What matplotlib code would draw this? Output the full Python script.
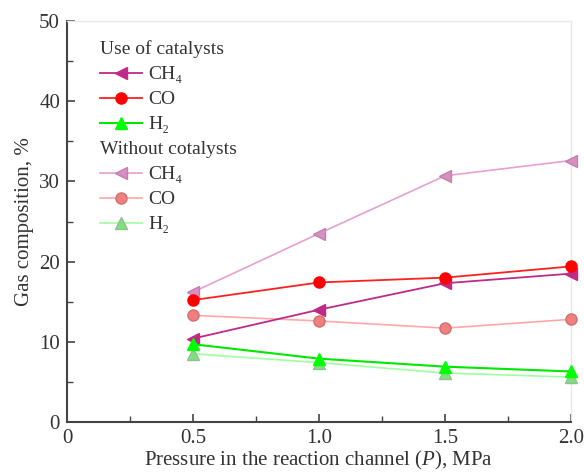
import matplotlib
matplotlib.use("Agg")
import matplotlib.pyplot as plt
from matplotlib.lines import Line2D
from matplotlib.ticker import MultipleLocator

plt.rcParams['font.family'] = ['Liberation Serif', 'DejaVu Serif']
plt.rcParams['mathtext.fontset'] = 'custom'
plt.rcParams['mathtext.rm'] = 'Liberation Serif'
plt.rcParams['mathtext.it'] = 'Liberation Serif:italic'

pressure = [0.5, 1.0, 1.5, 2.0]
cat_ch4 = [10.4, 14.0, 17.3, 18.5]
cat_co = [15.2, 17.4, 18.0, 19.4]
cat_h2 = [9.7, 7.9, 6.9, 6.3]
nocat_ch4 = [16.2, 23.5, 30.7, 32.6]
nocat_co = [13.3, 12.6, 11.7, 12.8]
nocat_h2 = [8.5, 7.4, 6.1, 5.6]

fig = plt.figure(figsize=(5.84, 4.72), dpi=100)
ax = fig.add_axes([67/584, 1-422/472, (571-67)/584, (422-21)/472])

ms = 8
styles = [
    (cat_ch4, dict(color='#C02A88', marker='<', mfc='#C02A88', mec='#C02A88', lw=1.3)),
    (cat_co, dict(color='#FF2020', marker='o', mfc='#FF0000', mec='#FF0000', lw=1.3)),
    (cat_h2, dict(color='#00E800', marker='^', mfc='#00FF00', mec='#00FF00', lw=1.5)),
    (nocat_ch4, dict(color='#E8A0D0', marker='<', mfc='#D890C0', mec='#C080B0', lw=1.2)),
    (nocat_co, dict(color='#FFA8A8', marker='o', mfc='#F08080', mec='#D07070', lw=1.2)),
    (nocat_h2, dict(color='#A0FFA0', marker='^', mfc='#80E080', mec='#90C090', lw=1.2)),
]
order = [3, 4, 5, 0, 1, 2]
for i in order:
    vals, st = styles[i]
    ax.plot(pressure, vals, ms=ms, clip_on=False, zorder=3 + (i < 3), **st)

fs = 15
ax.set_xlim(0, 2.0)
ax.set_ylim(0, 50)
ax.xaxis.set_major_locator(MultipleLocator(0.5))
ax.xaxis.set_minor_locator(MultipleLocator(0.25))
ax.yaxis.set_major_locator(MultipleLocator(10))
ax.yaxis.set_minor_locator(MultipleLocator(5))
ax.set_xticks([0, 0.5, 1.0, 1.5, 2.0])
ax.set_xticklabels(['0', '0.5', '1.0', '1.5', '2.0'])
ax.tick_params(which='both', direction='in', top=False, right=False, color='#444444', labelsize=fs, labelcolor='#333333')
ax.tick_params(which='major', length=6, width=1.2)
ax.tick_params(which='minor', length=4, width=1.0)
ax.tick_params(axis='y', pad=5)
ax.tick_params(axis='x', pad=5)
for s in ['left', 'bottom']:
    ax.spines[s].set_color('#444444')
    ax.spines[s].set_linewidth(1.5)
for s in ['top', 'right']:
    ax.spines[s].set_color('#E8E8E8')
    ax.spines[s].set_linewidth(1.0)

ax.set_xlabel('Pressure in the reaction channel ($\\mathit{P}$), MPa', fontsize=fs, color='#333333', labelpad=0.5)
ax.set_ylabel('Gas composition, %', fontsize=fs, color='#333333', labelpad=4)

handles = []
labels = []
blank = Line2D([], [], color='none')
handles.append(blank); labels.append('Use of catalysts')
names = ['CH\u2084', 'CO', 'H\u2082']
for i in range(3):
    st = dict(styles[i][1]); handles.append(Line2D([], [], ms=ms, **st)); labels.append(names[i])
handles.append(blank); labels.append('Without cotalysts')
for i in range(3):
    st = dict(styles[i + 3][1]); handles.append(Line2D([], [], ms=ms, **st)); labels.append(names[i])

lfs = 14
hl = 2.2
tp = 0.3
leg = ax.legend(handles, labels, loc='upper left', bbox_to_anchor=(0.03, 0.995), frameon=False,
                fontsize=lfs, handlelength=hl, handletextpad=tp, labelspacing=0.38,
                labelcolor='#333333')
shift = (hl + tp) * lfs * 100 / 72
for i, t in enumerate(leg.get_texts()):
    if labels[i] in ('Use of catalysts', 'Without cotalysts'):
        t.set_position((-shift, 0))

fig.savefig('out.png', dpi=100)
